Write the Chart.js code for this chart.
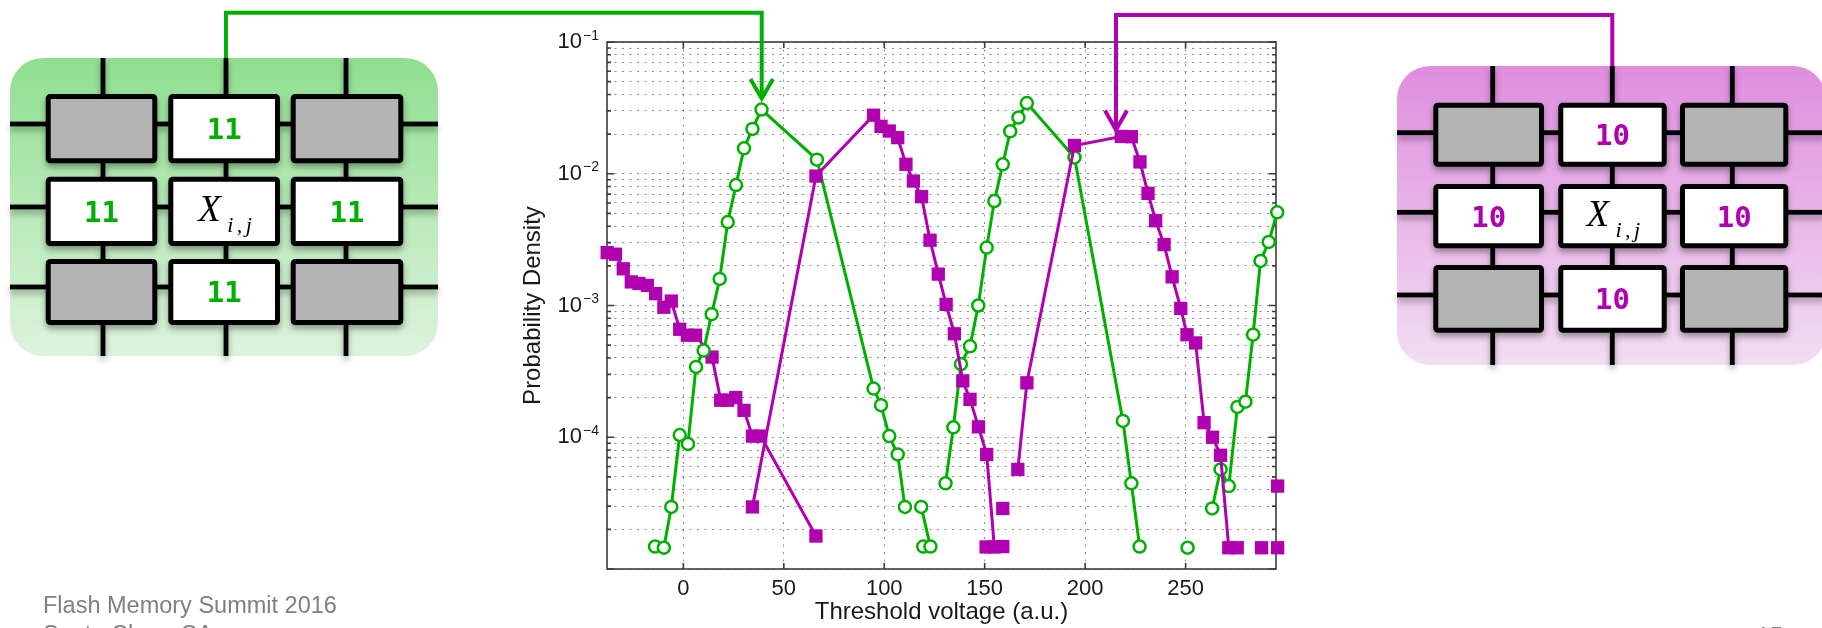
<!DOCTYPE html>
<html>
<head>
<meta charset="utf-8">
<script src="https://cdn.jsdelivr.net/npm/chart.js@4.4.1/dist/chart.umd.min.js"></script>
<style>
html, body { margin: 0; padding: 0; background: #fff; overflow: hidden; }
#wrap { position: relative; width: 1822px; height: 628px; }
#myChart { position: absolute; left: 0; top: 0; }
#deco { position: absolute; left: 0; top: 0; pointer-events: none; }
</style>
</head>
<body>
<div id="wrap">
<canvas id="myChart" width="1822" height="628"></canvas>
<svg id="deco" width="1822" height="628" xmlns="http://www.w3.org/2000/svg"></svg>
</div>
<script>
// axis ticks
var xTicks = [0, 50, 100, 150, 200, 250];
var yTicks = [1e-5, 1e-4, 1e-3, 1e-2, 1e-1];
var yTickLabels = ['', '10', '10', '10', '10'];
var yTickExps = ['', '\u22124', '\u22123', '\u22122', '\u22121'];
var yMinor = [2, 3, 4, 5, 6, 7, 8, 9];

// green (circles) - null = empty bin, line breaks there
var green1X = [-14.1, -9.7, -6.0, -1.8, 2.3, 6.3, 10.1, 14.1, 18.1, 22.1, 26.2, 30.2, 34.4, 38.9, 66.5, 94.7, 98.4, 102.5, 106.7, 110.3, 114.3, 118.4, 123.0];
var green1Y = [1.48e-5, 1.45e-5, 2.96e-5, 1.04e-4, 8.9e-5, 3.42e-4, 4.55e-4, 8.6e-4, 1.59e-3, 4.3e-3, 8.2e-3, 1.56e-2, 2.19e-2, 3.07e-2, 1.28e-2, 2.34e-4, 1.75e-4, 1.02e-4, 7.4e-5, 2.96e-5, null, 2.96e-5, 1.48e-5];
var green2X = [119.4, 125.0, 130.5, 134.4, 138.2, 142.7, 146.8, 151.0, 154.8, 159.0, 162.7, 166.8, 171.0, 194.7, 218.8, 223.0, 227.1];
var green2Y = [1.48e-5, null, 4.47e-5, 1.19e-4, 3.59e-4, 4.9e-4, 1.0e-3, 2.75e-3, 6.2e-3, 1.18e-2, 2.1e-2, 2.67e-2, 3.44e-2, 1.33e-2, 1.33e-4, 4.47e-5, 1.48e-5];
var green3X = [251.0, 257.0, 263.2, 267.4, 271.5, 275.8, 279.8, 283.6, 287.3, 291.4, 295.6];
var green3Y = [1.45e-5, null, 2.88e-5, 5.7e-5, 4.26e-5, 1.7e-4, 1.86e-4, 6.0e-4, 2.18e-3, 3.04e-3, 5.1e-3];

// magenta (squares)
var mag1X = [-37.9, -33.8, -29.9, -25.9, -22.1, -17.9, -13.8, -9.7, -6.0, -1.8, 2.0, 6.1, 14.3, 18.6, 22.0, 26.1, 30.2, 34.4, 38.5, 66.0];
var mag1Y = [2.52e-3, 2.45e-3, 1.9e-3, 1.51e-3, 1.47e-3, 1.42e-3, 1.23e-3, 9.7e-4, 1.08e-3, 6.6e-4, 5.95e-4, 5.95e-4, 4.06e-4, 1.91e-4, 1.91e-4, 2.0e-4, 1.6e-4, 1.02e-4, 1.02e-4, 1.78e-5];
var mag2X = [34.4, 66.0, 94.7, 98.4, 102.5, 106.7, 110.8, 114.5, 118.6, 122.8, 126.9, 130.8, 134.9, 139.1, 142.7, 146.9, 151.0, 154.8, 159.0];
var mag2Y = [2.96e-5, 9.6e-3, 2.78e-2, 2.29e-2, 2.11e-2, 1.88e-2, 1.18e-2, 8.8e-3, 6.7e-3, 3.13e-3, 1.73e-3, 1.02e-3, 6.1e-4, 2.68e-4, 1.94e-4, 1.2e-4, 7.4e-5, 1.47e-5, 1.48e-5];
var mag3X = [150.7, 154.9, 159.0, 162.8, 166.5, 171.0, 194.7, 218.0, 223.0, 227.3, 231.3, 235.1, 239.3, 243.3, 247.6, 250.7, 255.0, 259.2, 263.4, 267.4, 271.5, 275.7, 283.0, 295.8];
var mag3Y = [1.47e-5, null, 2.88e-5, null, 5.7e-5, 2.59e-4, 1.64e-2, 1.92e-2, 1.91e-2, 1.23e-2, 7.1e-3, 4.4e-3, 2.9e-3, 1.65e-3, 9.5e-4, 6.0e-4, 5.2e-4, 1.29e-4, 1.0e-4, 7.3e-5, 1.45e-5, 1.45e-5, null, 4.26e-5];
var mag4X = [287.8, 291.8, 295.8];
var mag4Y = [1.45e-5, null, 1.45e-5];

var GREEN = '#00b000';
var MAG = '#b000b0';
var FONT = "'Liberation Sans', Arial, Helvetica, sans-serif";
var gridColor = 'rgba(0,0,0,0.45)';

function pts(xs, ys) {
  return xs.map(function (x, i) { return { x: x, y: ys[i] }; });
}
function greenSet(xs, ys) {
  return {
    data: pts(xs, ys), borderColor: GREEN, borderWidth: 3, tension: 0, spanGaps: false, clip: false,
    pointStyle: 'circle', pointRadius: 6, pointBorderWidth: 2.5,
    pointBorderColor: GREEN, pointBackgroundColor: '#fff'
  };
}
function magSet(xs, ys) {
  return {
    data: pts(xs, ys), borderColor: MAG, borderWidth: 3, tension: 0, spanGaps: false, clip: false,
    pointStyle: 'rect', pointRadius: 9.4, pointBorderWidth: 0,
    pointBorderColor: MAG, pointBackgroundColor: MAG
  };
}
function majorIndex(v) {
  for (var i = 0; i < yTicks.length; i++) {
    if (Math.abs(v / yTicks[i] - 1) < 1e-6) return i;
  }
  return -1;
}

// box + inward ticks like matlab, plus the exponents of the y labels
var axesBox = {
  id: 'axesBox',
  beforeDatasetsDraw: function (chart) {
    var ctx = chart.ctx, a = chart.chartArea, x = chart.scales.x, y = chart.scales.y;
    ctx.save();
    ctx.strokeStyle = '#3c3c3c';
    ctx.lineWidth = 1.6;
    ctx.strokeRect(a.left, a.top, a.right - a.left, a.bottom - a.top);
    ctx.beginPath();
    x.ticks.forEach(function (t) {
      var px = x.getPixelForValue(t.value);
      ctx.moveTo(px, a.bottom); ctx.lineTo(px, a.bottom - 6);
      ctx.moveTo(px, a.top); ctx.lineTo(px, a.top + 6);
    });
    y.ticks.forEach(function (t) {
      var py = y.getPixelForValue(t.value);
      var len = majorIndex(t.value) >= 0 ? 7 : 4;
      ctx.moveTo(a.left, py); ctx.lineTo(a.left + len, py);
      ctx.moveTo(a.right, py); ctx.lineTo(a.right - len, py);
    });
    ctx.stroke();
    ctx.restore();
  },
  afterDraw: function (chart) {
    var ctx = chart.ctx, a = chart.chartArea, y = chart.scales.y;
    ctx.save();
    ctx.fillStyle = '#1a1a1a';
    ctx.font = '14px ' + FONT;
    ctx.textAlign = 'left';
    ctx.textBaseline = 'alphabetic';
    yTicks.forEach(function (v, i) {
      if (!yTickExps[i]) return;
      ctx.fillText(yTickExps[i], a.left - 24, y.getPixelForValue(v) - 2.4);
    });
    ctx.restore();
  }
};

new Chart(document.getElementById('myChart'), {
  type: 'line',
  data: {
    datasets: [
      magSet(mag3X, mag3Y),
      magSet(mag2X, mag2Y),
      greenSet(green1X, green1Y),
      greenSet(green2X, green2Y),
      greenSet(green3X, green3Y),
      magSet(mag1X, mag1Y),
      magSet(mag4X, mag4Y)
    ]
  },
  options: {
    responsive: false,
    maintainAspectRatio: false,
    devicePixelRatio: 1,
    animation: false,
    events: [],
    layout: { padding: { left: 519, right: 546, top: 42, bottom: 0 } },
    plugins: { legend: { display: false }, tooltip: { enabled: false } },
    scales: {
      x: {
        type: 'linear', min: -38, max: 295,
        afterBuildTicks: function (s) { s.ticks = xTicks.map(function (v) { return { value: v }; }); },
        afterFit: function (s) { s.height = 59; s.paddingLeft = 0; s.paddingRight = 0; },
        ticks: { padding: 7, color: '#1a1a1a', font: { family: FONT, size: 22 } },
        grid: { color: gridColor, lineWidth: 1, drawTicks: false },
        border: { display: false, dash: [2, 5.5] },
        title: { display: true, text: 'Threshold voltage (a.u.)', color: '#1a1a1a', font: { family: FONT, size: 24 }, padding: { top: 0, bottom: 1 } }
      },
      y: {
        type: 'logarithmic', min: 1e-5, max: 1e-1,
        afterBuildTicks: function (s) {
          var t = [];
          for (var i = 0; i < yTicks.length - 1; i++) {
            t.push({ value: yTicks[i] });
            yMinor.forEach(function (m) { t.push({ value: m * yTicks[i] }); });
          }
          t.push({ value: yTicks[yTicks.length - 1] });
          s.ticks = t;
        },
        afterFit: function (s) { s.width = 88; s.paddingTop = 0; s.paddingBottom = 0; },
        ticks: {
          autoSkip: false, padding: 25, color: '#1a1a1a', font: { family: FONT, size: 22 },
          callback: function (v) {
            var i = majorIndex(v);
            return i >= 0 ? yTickLabels[i] : '';
          }
        },
        grid: { color: gridColor, lineWidth: 1, drawTicks: false },
        border: { display: false, dash: [2, 5.5] },
        title: { display: true, text: 'Probability Density', color: '#1a1a1a', font: { family: FONT, size: 24 }, padding: { top: 0, bottom: 0 } }
      }
    }
  },
  plugins: [axesBox]
});

// neighbour-cell diagrams, connectors and footer
function cellBox(b) {
  var s = '<rect x="' + b.x + '" y="' + b.y + '" width="' + b.w + '" height="' + b.h + '" rx="33" fill="url(#' + b.grad + ')"/>';
  s += '<g filter="url(#sh)">';
  b.hLines.forEach(function (y) {
    s += '<rect x="' + b.x + '" y="' + (y - 2.4) + '" width="' + b.w + '" height="4.8" fill="#000"/>';
  });
  b.vLines.forEach(function (x) {
    s += '<rect x="' + (x - 2.4) + '" y="' + b.y + '" width="4.8" height="' + b.h + '" fill="#000"/>';
  });
  var txt = '';
  b.rows.forEach(function (r, ri) {
    b.cols.forEach(function (c, ci) {
      var gray = ri !== 1 && ci !== 1;
      s += '<rect x="' + (c[0] + 2.5) + '" y="' + (r[0] + 2.5) + '" width="' + (c[1] - 5) + '" height="' + (r[1] - 5) +
        '" rx="2" fill="' + (gray ? '#b3b3b3' : '#fff') + '" stroke="#000" stroke-width="5"/>';
      var cx = c[0] + c[1] / 2, cy = r[0] + r[1] / 2;
      if (ri === 1 && ci === 1) {
        txt += '<text x="' + (cx - 26) + '" y="' + (cy + 10) + '" font-family="Liberation Serif, Times New Roman, serif" font-style="italic" font-size="37" fill="#000">X</text>';
        txt += '<text x="' + (cx + 3) + '" y="' + (cy + 21) + '" font-family="Liberation Serif, Times New Roman, serif" font-style="italic" font-size="22" letter-spacing="3.5" fill="#000">i,j</text>';
      } else if (!gray) {
        txt += '<text x="' + cx + '" y="' + (cy + 10.4) + '" text-anchor="middle" font-family="DejaVu Sans Mono, monospace" font-weight="bold" font-size="29" fill="' + b.color + '">' + b.label + '</text>';
      }
    });
  });
  s += '</g>' + txt;
  return s;
}

var leftBox = {
  x: 10, y: 58, w: 428, h: 298, grad: 'gG', color: GREEN, label: '11',
  hLines: [124, 207, 287], vLines: [103, 226, 346],
  cols: [[45.7, 111.6], [168.3, 111.7], [290.7, 112.6]],
  rows: [[94, 69.3], [176.7, 69.3], [259, 66]]
};
var rightBox = {
  x: 1397, y: 66, w: 429, h: 299, grad: 'gM', color: MAG, label: '10',
  hLines: [132.7, 212.3, 295], vLines: [1492.7, 1612.3, 1732.3],
  cols: [[1433.3, 110.7], [1558.3, 108.4], [1680, 108.3]],
  rows: [[102.7, 64], [184, 64.3], [265, 67.7]]
};

var svg = '';
svg += '<defs>' +
  '<linearGradient id="gG" x1="0" y1="0" x2="0" y2="1"><stop offset="0" stop-color="#8fdf8f"/><stop offset="1" stop-color="#def3de"/></linearGradient>' +
  '<linearGradient id="gM" x1="0" y1="0" x2="0" y2="1"><stop offset="0" stop-color="#df8ddf"/><stop offset="1" stop-color="#f2def2"/></linearGradient>' +
  '<filter id="sh" filterUnits="userSpaceOnUse" x="0" y="0" width="1822" height="628">' +
  '<feGaussianBlur in="SourceAlpha" stdDeviation="3"/><feOffset dx="0" dy="4" result="b"/>' +
  '<feFlood flood-color="#000" flood-opacity="0.35"/><feComposite in2="b" operator="in"/>' +
  '<feMerge><feMergeNode/><feMergeNode in="SourceGraphic"/></feMerge></filter>' +
  '</defs>';
svg += cellBox(leftBox) + cellBox(rightBox);
svg += '<polyline points="226,58 226,12.7 761.7,12.7 761.7,97" fill="none" stroke="' + GREEN + '" stroke-width="4"/>';
svg += '<polyline points="750.5,79 761.7,98.5 773,79" fill="none" stroke="' + GREEN + '" stroke-width="4"/>';
svg += '<polyline points="1612.3,66 1612.3,15 1116,15 1116,128" fill="none" stroke="' + MAG + '" stroke-width="4"/>';
svg += '<polyline points="1105,110.5 1116,130 1127,110.5" fill="none" stroke="' + MAG + '" stroke-width="4"/>';
svg += '<text x="43" y="613" font-family="' + FONT + '" font-size="23.5" fill="#808080">Flash Memory Summit 2016</text>';
svg += '<text x="43" y="642" font-family="' + FONT + '" font-size="23.5" fill="#808080">Santa Clara, CA</text>';
svg += '<text x="1783" y="644" text-anchor="end" font-family="' + FONT + '" font-size="23.5" fill="#808080">15</text>';
document.getElementById('deco').innerHTML = svg;
</script>
</body>
</html>
